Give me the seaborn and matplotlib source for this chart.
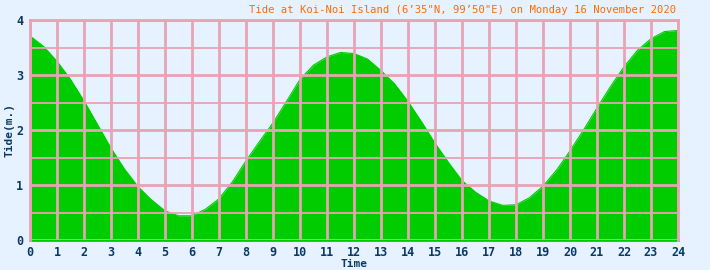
import matplotlib
matplotlib.use("Agg")
import matplotlib.pyplot as plt
import seaborn as sns
from matplotlib.ticker import MultipleLocator

# ── data (half-hour steps) ────────────────────────────────────────────────────
hours = [0, 0.5, 1, 1.5, 2, 2.5, 3, 3.5, 4, 4.5, 5, 5.5, 6, 6.5, 7, 7.5, 8, 8.5,
         9, 9.5, 10, 10.5, 11, 11.5, 12, 12.5, 13, 13.5, 14, 14.5, 15, 15.5, 16,
         16.5, 17, 17.5, 18, 18.5, 19, 19.5, 20, 20.5, 21, 21.5, 22, 22.5, 23,
         23.5, 24]
tide_m = [3.71, 3.52, 3.25, 2.92, 2.53, 2.10, 1.67, 1.29, 0.97, 0.73, 0.53, 0.44,
          0.44, 0.56, 0.75, 1.06, 1.44, 1.79, 2.13, 2.52, 2.92, 3.18, 3.33, 3.41,
          3.39, 3.29, 3.08, 2.84, 2.52, 2.15, 1.76, 1.41, 1.08, 0.87, 0.71, 0.63,
          0.64, 0.77, 0.98, 1.27, 1.62, 2.00, 2.40, 2.79, 3.15, 3.45, 3.66, 3.79,
          3.81]
x_ticks = list(range(0, 25))
y_ticks = [0, 1, 2, 3, 4]

title = "Tide at Koi-Noi Island (6\u201935\"N, 99\u201950\"E) on Monday 16 November 2020"

# ── style ─────────────────────────────────────────────────────────────────────
BG = "#E6F2FF"
PINK = "#E8A3B4"
GREEN = "#00CC00"
NAVY = "#0B3A66"
ORANGE = "#FF6A00"

sns.set_theme(style="white")
plt.rcParams["font.family"] = ["DejaVu Sans Mono", "DejaVu Sans"]

fig = plt.figure(figsize=(7.1, 2.7), dpi=100, facecolor=BG)
ax = fig.add_axes([30 / 710, 30 / 270, 648 / 710, 220 / 270], facecolor=BG)

ax.fill_between(hours, tide_m, 0, color=GREEN, linewidth=0, zorder=1)
sns.lineplot(x=hours, y=tide_m, color=GREEN, linewidth=0.8, ax=ax, zorder=1)

ax.set_xlim(0, 24)
ax.set_ylim(0, 4)
ax.set_xticks(x_ticks)
ax.set_yticks(y_ticks)
ax.yaxis.set_minor_locator(MultipleLocator(0.5))

ax.set_axisbelow(False)
ax.grid(which="major", color=PINK, linewidth=2.0, zorder=3)
ax.grid(which="minor", axis="y", color=PINK, linewidth=1.3, zorder=3)

for side in ("left", "top", "right"):
    ax.spines[side].set_color(PINK)
    ax.spines[side].set_linewidth(2.0)
    ax.spines[side].set_zorder(4)
ax.spines["bottom"].set_color(GREEN)
ax.spines["bottom"].set_linewidth(2.0)

ax.tick_params(which="both", length=0)
ax.tick_params(axis="x", pad=4, labelsize=8.5, labelcolor=NAVY)
ax.tick_params(axis="y", pad=5, labelsize=8.5, labelcolor=NAVY)
for lab in ax.get_xticklabels() + ax.get_yticklabels():
    lab.set_fontweight("bold")

ax.set_xlabel("Time", fontsize=8, fontweight="bold", color=NAVY, labelpad=0)
ax.set_ylabel("Tide(m.)", fontsize=8, fontweight="bold", color=NAVY, labelpad=1)

fig.text(676 / 710, 1 - 10 / 270, title, ha="right", va="center",
         fontsize=7.6, color=ORANGE)

fig.savefig("out.png", dpi=100, facecolor=BG)
